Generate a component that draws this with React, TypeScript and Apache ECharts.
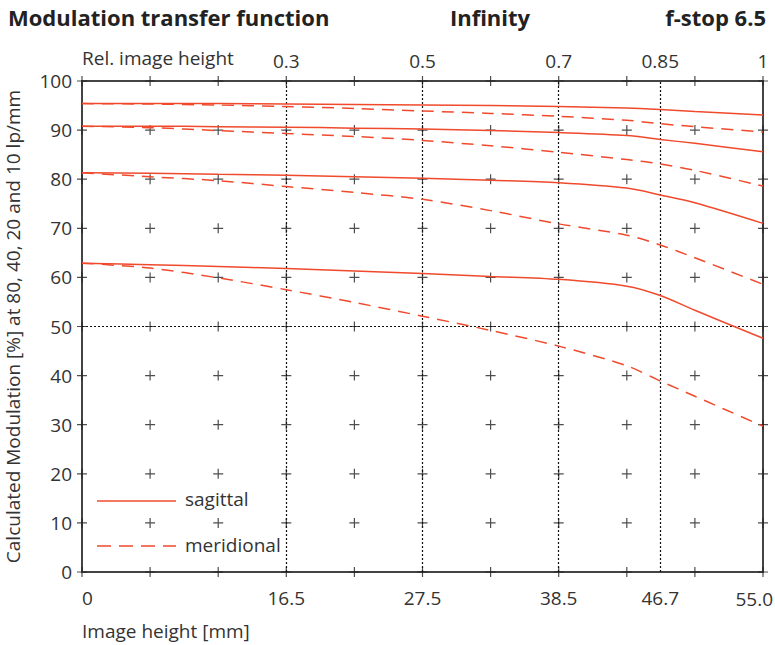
import React, { useEffect, useRef } from "react";
import * as echarts from "echarts";

const xs = [0, 5.5, 11, 16.5, 22, 27.5, 33, 38.5, 44, 46.7, 49.5, 55];
const sag10 = [95.4, 95.4, 95.4, 95.3, 95.2, 95.1, 95.0, 94.8, 94.5, 94.2, 93.8, 93.1];
const mer10 = [95.4, 95.3, 95.1, 94.8, 94.4, 93.9, 93.4, 92.8, 92.0, 91.3, 90.7, 89.6];
const sag20 = [90.8, 90.8, 90.7, 90.6, 90.4, 90.2, 89.9, 89.5, 88.9, 88.1, 87.3, 85.6];
const mer20 = [90.8, 90.5, 89.9, 89.3, 88.7, 87.9, 86.8, 85.5, 84.0, 83.1, 81.8, 78.6];
const sag40 = [81.3, 81.2, 81.0, 80.8, 80.5, 80.2, 79.8, 79.3, 78.2, 76.8, 75.2, 71.0];
const mer40 = [81.3, 80.5, 79.7, 78.5, 77.3, 75.9, 73.6, 70.9, 68.6, 66.6, 64.0, 58.6];
const sag80 = [62.9, 62.6, 62.2, 61.8, 61.3, 60.8, 60.2, 59.6, 58.2, 56.3, 53.3, 47.6];
const mer80 = [62.9, 61.9, 59.9, 57.5, 54.9, 52.1, 49.2, 46.0, 42.0, 38.9, 35.8, 29.7];

const gridX = [0, 5.5, 11, 16.5, 22, 27.5, 33, 38.5, 44, 49.5, 55];
const gridY = [0, 10, 20, 30, 40, 50, 60, 70, 80, 90, 100];
const bottomTickValues = [0, 16.5, 27.5, 38.5, 46.7];
const bottomTickLabels = ["0", "16.5", "27.5", "38.5", "46.7"];
const bottomEndLabel = "55.0";
const topTickValues = [16.5, 27.5, 38.5, 46.7, 55];
const topTickLabels = ["0.3", "0.5", "0.7", "0.85", "1"];
const dottedX = [16.5, 27.5, 38.5, 46.7];
const dottedY = [50];

const RED = "#f04a2d";
const FONT = "'Open Sans', 'Noto Sans', sans-serif";
const TXT = "#333";
const FS = 19;

export default function App() {
  const ref = useRef<HTMLDivElement>(null);
  useEffect(() => {
    if (!ref.current) return;
    const chart = echarts.init(ref.current, null, { renderer: "svg" });
    const pair = (arr: number[]) => xs.map((x, i) => [x, arr[i]]);
    const crosses: number[][] = [];
    gridX.forEach((x) => gridY.forEach((y) => crosses.push([x, y])));
    const lineSeries = (name: string, data: number[], dashed: boolean) => ({
      type: "line",
      name,
      data: pair(data),
      smooth: 0.3,
      showSymbol: false,
      symbol: "none",
      xAxisIndex: 0,
      lineStyle: { color: RED, width: 1.5, type: dashed ? [12, 8] : "solid" },
      z: 5,
    });
    const fmt = (vals: number[], labels: string[]) => (v: number) => {
      const i = vals.findIndex((t) => Math.abs(t - v) < 1e-6);
      return i >= 0 ? labels[i] : "";
    };
    chart.setOption({
      animation: false,
      backgroundColor: "#fff",
      textStyle: { fontFamily: FONT },
      grid: {
        left: 82,
        right: 12,
        top: 81,
        bottom: 73,
        containLabel: false,
        outerBoundsMode: "none",
        show: true,
        borderColor: "#444",
        borderWidth: 2,
      },
      xAxis: [
        {
          type: "value",
          position: "bottom",
          min: 0,
          max: 55,
          axisLine: { show: false },
          axisTick: { show: false },
          splitLine: { show: false },
          axisLabel: {
            customValues: bottomTickValues,
            formatter: fmt(bottomTickValues, bottomTickLabels),
            fontSize: FS,
            color: TXT,
            fontFamily: FONT,
            margin: 16,
            alignMinLabel: "left",
          },
        },
        {
          type: "value",
          position: "top",
          min: 0,
          max: 55,
          axisLine: { show: false },
          axisTick: { show: false },
          splitLine: { show: false },
          axisLabel: {
            customValues: topTickValues,
            formatter: fmt(topTickValues, topTickLabels),
            fontSize: FS,
            color: TXT,
            fontFamily: FONT,
            margin: 11,
          },
        },
      ],
      yAxis: {
        type: "value",
        min: 0,
        max: 100,
        interval: 10,
        axisLine: { show: false },
        axisTick: { show: false },
        splitLine: { show: false },
        axisLabel: { fontSize: FS, color: TXT, fontFamily: FONT, margin: 10 },
        name: "Calculated Modulation [%] at 80, 40, 20 and 10 lp/mm",
        nameLocation: "middle",
        nameGap: 59,
        nameTextStyle: { fontSize: FS, color: TXT, fontFamily: FONT, lineHeight: 20 },
      },
      series: [
        {
          type: "scatter",
          data: crosses,
          symbol: "path://M5 0L5 10M0 5L10 5",
          symbolSize: 10,
          itemStyle: { color: "none", borderColor: "#222", borderWidth: 1.2 },
          silent: true,
          z: 3,
        },
        {
          type: "line",
          data: [],
          markLine: {
            silent: true,
            symbol: "none",
            label: { show: false },
            lineStyle: { color: "#111", width: 1.2, type: [2, 2] },
            data: [
              ...dottedX.map((x) => ({ xAxis: x })),
              ...dottedY.map((y) => ({ yAxis: y })),
            ],
          },
          z: 2,
        },
        lineSeries("sagittal", sag10, false),
        lineSeries("meridional", mer10, true),
        lineSeries("sagittal", sag20, false),
        lineSeries("meridional", mer20, true),
        lineSeries("sagittal", sag40, false),
        lineSeries("meridional", mer40, true),
        lineSeries("sagittal", sag80, false),
        lineSeries("meridional", mer80, true),
      ],
      graphic: [
        {
          type: "text",
          x: 8,
          y: 17,
          style: { text: "Modulation transfer function", font: `bold 22px ${FONT}`, fill: "#222", align: "left", verticalAlign: "middle" },
        },
        {
          type: "text",
          x: 490,
          y: 17,
          style: { text: "Infinity", font: `bold 22px ${FONT}`, fill: "#222", align: "center", verticalAlign: "middle" },
        },
        {
          type: "text",
          x: 766,
          y: 17,
          style: { text: "f-stop 6.5", font: `bold 22px ${FONT}`, fill: "#222", align: "right", verticalAlign: "middle" },
        },
        {
          type: "text",
          x: 82,
          y: 58,
          style: { text: "Rel. image height", font: `${FS}px ${FONT}`, fill: TXT, align: "left", verticalAlign: "middle" },
        },
        {
          type: "text",
          x: 773,
          y: 599,
          style: { text: bottomEndLabel, font: `${FS}px ${FONT}`, fill: TXT, align: "right", verticalAlign: "middle" },
        },
        {
          type: "text",
          x: 82,
          y: 631,
          style: { text: "Image height [mm]", font: `${FS}px ${FONT}`, fill: TXT, align: "left", verticalAlign: "middle" },
        },
        {
          type: "line",
          shape: { x1: 97, y1: 501, x2: 176, y2: 501 },
          style: { stroke: RED, lineWidth: 1.5 },
        },
        {
          type: "text",
          x: 185,
          y: 499,
          style: { text: "sagittal", font: `${FS}px ${FONT}`, fill: TXT, align: "left", verticalAlign: "middle" },
        },
        {
          type: "line",
          shape: { x1: 97, y1: 546, x2: 176, y2: 546 },
          style: { stroke: RED, lineWidth: 1.5, lineDash: [14, 8] },
        },
        {
          type: "text",
          x: 185,
          y: 545,
          style: { text: "meridional", font: `${FS}px ${FONT}`, fill: TXT, align: "left", verticalAlign: "middle" },
        },
      ],
    });
    return () => chart.dispose();
  }, []);
  return (
    <div
      ref={ref}
      style={{ position: "absolute", left: 0, top: 0, width: 775, height: 645 }}
    />
  );
}
